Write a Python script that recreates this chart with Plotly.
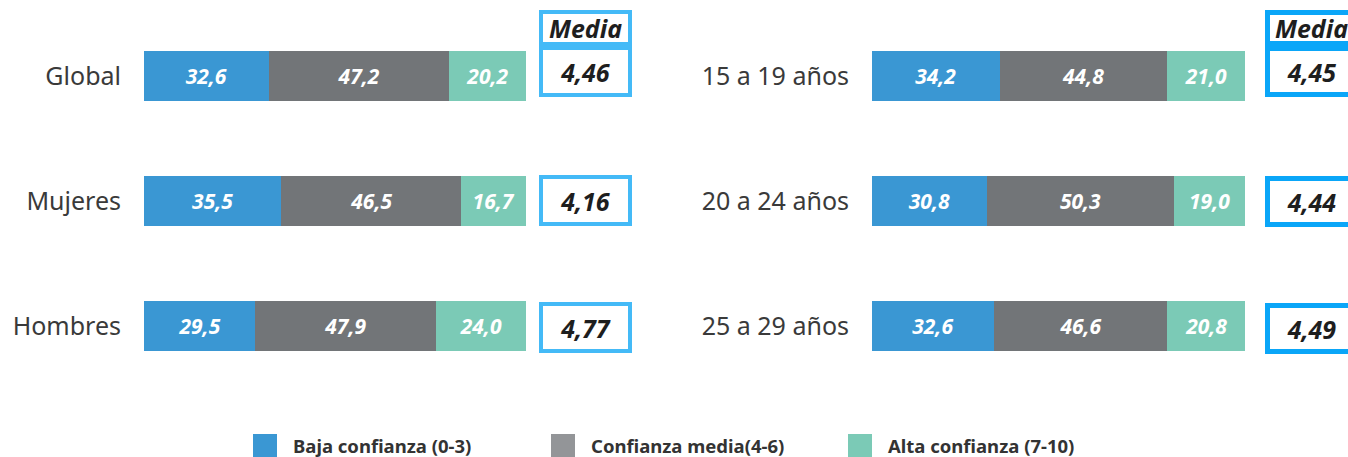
import plotly.graph_objects as go

# ---------------- data ----------------
cats_left = ["Global", "Mujeres", "Hombres"]
baja_left = [32.6, 35.5, 29.5]
mediac_left = [47.2, 46.5, 47.9]
alta_left = [20.2, 16.7, 24.0]
mean_left = [4.46, 4.16, 4.77]

cats_right = ["15 a 19 años", "20 a 24 años", "25 a 29 años"]
baja_right = [34.2, 30.8, 32.6]
mediac_right = [44.8, 50.3, 46.6]
alta_right = [21.0, 19.0, 20.8]
mean_right = [4.45, 4.44, 4.49]

series_names = ["Baja confianza (0-3)", "Confianza media(4-6)", "Alta confianza (7-10)"]
mean_header = "Media"

# ---------------- style ----------------
W, H = 1348, 457
COLORS = ["#3A97D3", "#727578", "#7BCAB6"]
LEGEND_COLORS = ["#3A97D3", "#939598", "#7BCAB6"]
FONT = "Noto Sans"


def px_x(p):
    return p / W


def px_y(p):
    return 1 - p / H


def fmt1(v):
    return f"{v:.1f}".replace(".", ",")


def fmt2(v):
    return f"{v:.2f}".replace(".", ",")


fig = go.Figure()

panels = [
    (cats_left, [baja_left, mediac_left, alta_left], "x", "y"),
    (cats_right, [baja_right, mediac_right, alta_right], "x2", "y2"),
]
for cats, series, xa, ya in panels:
    for name, vals, col in zip(series_names, series, COLORS):
        fig.add_trace(go.Bar(
            x=vals, y=cats, orientation="h", name=name,
            marker=dict(color=col, line=dict(width=0)),
            width=0.4,
            text=[fmt1(v) for v in vals],
            textposition="inside", insidetextanchor="middle", textangle=0,
            textfont=dict(family=FONT, size=21, color="white", weight="bold", style="italic"),
            hoverinfo="skip", showlegend=False,
            xaxis=xa, yaxis=ya,
        ))

ydom = [px_y(389), px_y(13.5)]
axis_font = dict(family=FONT, size=25, color="#3a3a3a")
fig.update_layout(
    width=W, height=H, autosize=False,
    margin=dict(l=0, r=0, t=0, b=0),
    paper_bgcolor="white", plot_bgcolor="white",
    barmode="stack", barnorm="percent", bargap=0.6,
    showlegend=False,
    xaxis=dict(domain=[px_x(144), px_x(526)], range=[0, 100], visible=False, fixedrange=True),
    xaxis2=dict(domain=[px_x(872), px_x(1245)], range=[0, 100], visible=False, fixedrange=True),
    yaxis=dict(domain=ydom, anchor="x", categoryorder="array", categoryarray=cats_left,
               autorange="reversed", showgrid=False, showline=False, zeroline=False,
               ticks="", ticklabelstandoff=22, tickfont=axis_font, fixedrange=True),
    yaxis2=dict(domain=ydom, anchor="x2", categoryorder="array", categoryarray=cats_right,
                autorange="reversed", showgrid=False, showline=False, zeroline=False,
                ticks="", ticklabelstandoff=22, tickfont=axis_font, fixedrange=True),
)

# ---------------- "Media" boxes ----------------
box_specs = [
    # (center x px, border color, border width, yref, cats, means, yshifts)
    (585, "#44BAF7", 4, "y", cats_left, mean_left, [4.5, 1, -1.5]),
    (1311, "#0AA6F8", 5, "y2", cats_right, mean_right, [5, -0.5, -2.5]),
]
val_font = dict(family=FONT, size=25, color="#1e1e1e", weight="bold", style="italic")
for cx, bcol, bw, yref, cats, means, shifts in box_specs:
    # header
    fig.add_annotation(
        text=mean_header, xref="paper", yref="paper",
        x=px_x(cx), y=px_y(28), xanchor="center", yanchor="middle",
        showarrow=False, width=93 - 2 * bw, height=36 - 2 * bw,
        bordercolor=bcol, borderwidth=bw, borderpad=0, bgcolor="white",
        font=dict(family=FONT, size=25, color="#1e1e1e", weight="bold", style="italic"),
    )
    for c, m, s in zip(cats, means, shifts):
        fig.add_annotation(
            text=fmt2(m), xref="paper", yref=yref,
            x=px_x(cx), y=c, xanchor="center", yanchor="middle", yshift=s,
            showarrow=False, width=93 - 2 * bw, height=51 - 2 * bw,
            bordercolor=bcol, borderwidth=bw, borderpad=0, bgcolor="white",
            font=val_font,
        )

# ---------------- legend (manual) ----------------
legend_x = [253, 551, 848]
for lx, name, col in zip(legend_x, series_names, LEGEND_COLORS):
    fig.add_shape(type="rect", xref="paper", yref="paper",
                  x0=px_x(lx), x1=px_x(lx + 24), y0=px_y(462), y1=px_y(434),
                  fillcolor=col, line=dict(width=0))
    fig.add_annotation(text=name, xref="paper", yref="paper",
                       x=px_x(lx + 38), y=px_y(445), xanchor="left", yanchor="middle",
                       showarrow=False,
                       font=dict(family=FONT, size=18.5, color="#333333", weight="bold"))

fig.write_html(
    "out.html",
    config={"displayModeBar": False},
    post_script="document.body.style.margin='0';document.body.style.overflow='hidden';",
)
